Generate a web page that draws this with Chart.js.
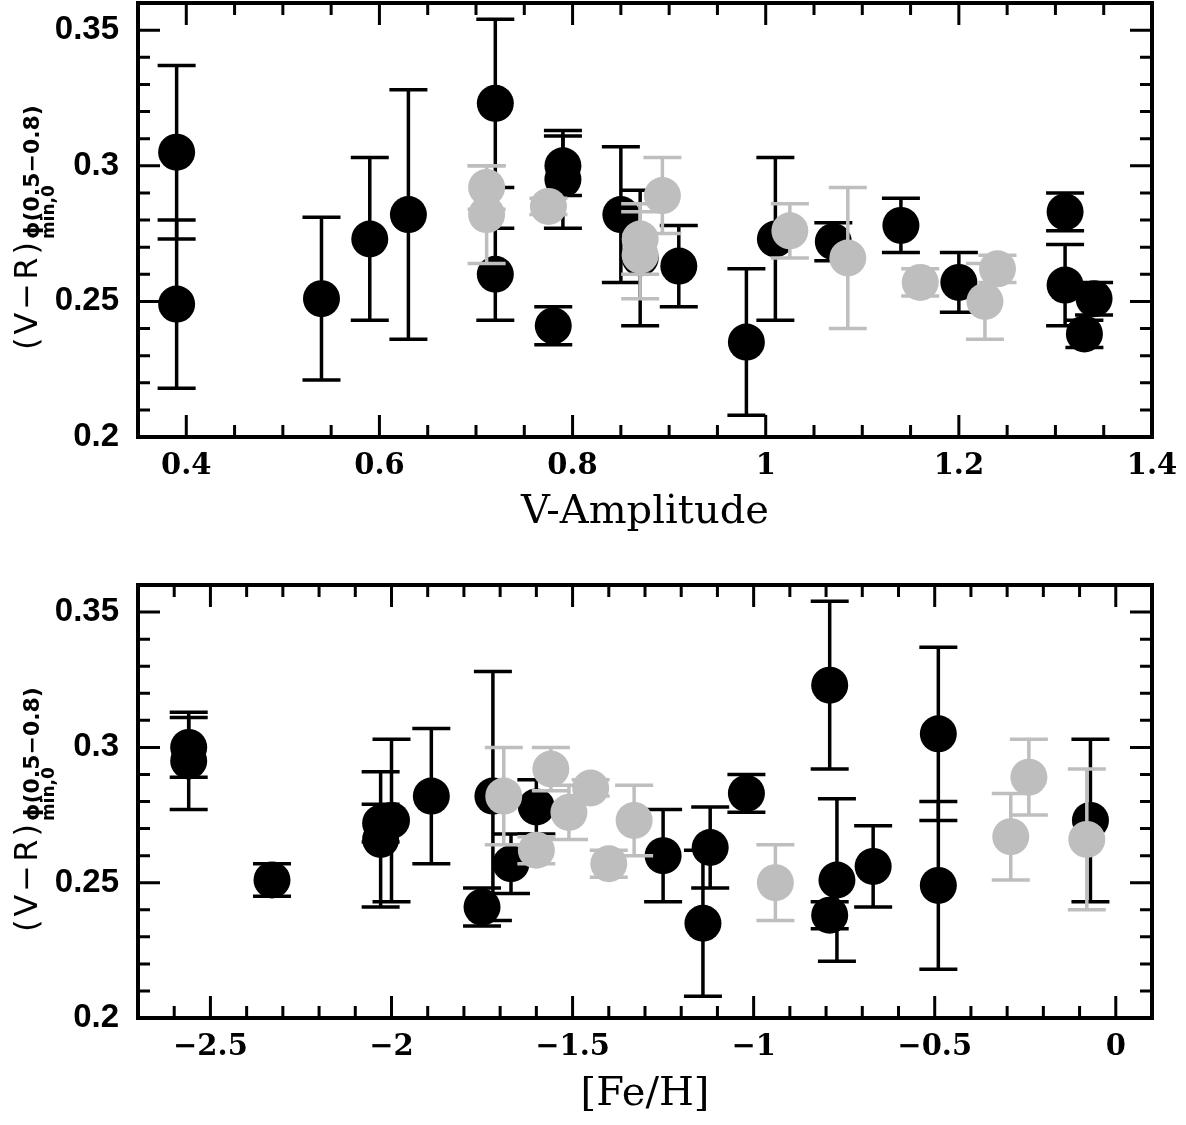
<!DOCTYPE html>
<html><head><meta charset="utf-8">
<script src="https://cdn.jsdelivr.net/npm/chart.js@4.4.1/dist/chart.umd.min.js"></script>
<style>
html,body{margin:0;padding:0;background:#fff;}
#wrap{position:relative;width:1186px;height:1125px;overflow:hidden;}
canvas{position:absolute;left:0;}
#c1{top:-21px;}
#c2{top:560px;}
</style></head><body>
<div id="wrap">
<canvas id="c1" width="1186" height="581"></canvas>
<canvas id="c2" width="1186" height="565"></canvas>
</div>
<script>
// ---------- data ----------
// black stars
const blackAmp = [0.39, 0.39, 0.54, 0.59, 0.63, 0.72, 0.72, 0.78, 0.79, 0.79, 0.85, 0.87, 0.91, 0.98, 1.01, 1.07, 1.14, 1.20, 1.31, 1.31, 1.34, 1.33];
const blackFeH = [-0.49, -0.49, -0.77, -2.00, -1.72, -0.79, -1.25, -1.75, -2.56, -2.56, -1.89, -2.03, -1.12, -1.14, -0.07, -2.03, -1.60, -1.67, -1.02, -0.67, -2.33, -0.79];
const blackVR  = [0.305, 0.249, 0.251, 0.273, 0.282, 0.323, 0.260, 0.241, 0.300, 0.295, 0.282, 0.266, 0.263, 0.235, 0.273, 0.272, 0.278, 0.257, 0.283, 0.256, 0.251, 0.238];
const blackErr = [0.032, 0.031, 0.030, 0.030, 0.046, 0.031, 0.017, 0.007, 0.011, 0.018, 0.025, 0.025, 0.015, 0.027, 0.030, 0.007, 0.010, 0.011, 0.007, 0.015, 0.006, 0.005];
// grey stars
const greyAmp = [0.711, 0.711, 0.775, 0.87, 0.87, 0.893, 1.025, 1.085, 1.16, 1.227, 1.24];
const greyFeH = [-1.56, -1.69, -1.45, -1.33, -0.29, -0.24, -1.51, -0.08, -1.40, -0.94, -1.60];
const greyVR  = [0.292, 0.282, 0.285, 0.273, 0.267, 0.289, 0.276, 0.266, 0.257, 0.250, 0.262];
const greyErr = [0.008, 0.018, 0.003, 0.013, 0.016, 0.014, 0.010, 0.026, 0.005, 0.014, 0.005];

// axes
const yTicks = [0.2, 0.25, 0.3, 0.35];
const yLabels = ['0.2', '0.25', '0.3', '0.35'];
const ampTicks = [0.4, 0.6, 0.8, 1, 1.2, 1.4];
const ampLabels = ['0.4', '0.6', '0.8', '1', '1.2', '1.4'];
const fehTicks = [-2.5, -2, -1.5, -1, -0.5, 0];
const fehLabels = ['\u22122.5', '\u22122', '\u22121.5', '\u22121', '\u22120.5', '0'];

const BLACK = '#000000', GREY = '#bebebe';
const SERIF = '"DejaVu Serif"';

function pts(xs, ys) { return xs.map((x, i) => ({x: x, y: ys[i]})); }

const framePlugin = {
  id: 'frameTicks',
  beforeDatasetDraw(chart, args) {
    const ds = chart.data.datasets[args.index];
    if (!ds.err) return;
    const ctx = chart.ctx, xs = chart.scales.x, ys = chart.scales.y, a = chart.chartArea;
    ctx.save();
    ctx.beginPath(); ctx.rect(a.left, a.top, a.right - a.left, a.bottom - a.top); ctx.clip();
    ctx.strokeStyle = ds.backgroundColor; ctx.lineWidth = 3.5; ctx.lineCap = 'butt';
    ds.data.forEach((p, i) => {
      const e = ds.err[i];
      const px = xs.getPixelForValue(p.x);
      const y1 = ys.getPixelForValue(p.y + e), y2 = ys.getPixelForValue(p.y - e);
      const hw = 19;
      ctx.beginPath();
      ctx.moveTo(px, y1); ctx.lineTo(px, y2);
      ctx.moveTo(px - hw, y1); ctx.lineTo(px + hw, y1);
      ctx.moveTo(px - hw, y2); ctx.lineTo(px + hw, y2);
      ctx.stroke();
    });
    ctx.restore();
  },
  afterDraw(chart) {
    const ctx = chart.ctx, xs = chart.scales.x, ys = chart.scales.y, a = chart.chartArea;
    const o = chart.options.plugins.frameTicks;
    ctx.save();
    ctx.strokeStyle = '#000'; ctx.lineCap = 'butt';
    ctx.lineWidth = 3;
    const MAJ = 22, MIN = 12;
    function xTick(v, len) {
      const px = xs.getPixelForValue(v);
      ctx.beginPath(); ctx.moveTo(px, a.bottom); ctx.lineTo(px, a.bottom - len);
      ctx.moveTo(px, a.top); ctx.lineTo(px, a.top + len); ctx.stroke();
    }
    function yTick(v, len) {
      const py = ys.getPixelForValue(v);
      ctx.beginPath(); ctx.moveTo(a.left, py); ctx.lineTo(a.left + len, py);
      ctx.moveTo(a.right, py); ctx.lineTo(a.right - len, py); ctx.stroke();
    }
    const near = (v, arr) => arr.some(t => Math.abs(t - v) < 1e-6);
    for (let k = Math.ceil(xs.min / o.xMinorStep - 1e-6); k * o.xMinorStep <= xs.max + 1e-9; k++) {
      const v = +(k * o.xMinorStep).toFixed(6);
      if (Math.abs(v - xs.min) < 1e-6 || Math.abs(v - xs.max) < 1e-6) continue;
      xTick(v, near(v, o.xMajor) ? MAJ : MIN);
    }
    for (let k = Math.ceil(ys.min / 0.01 - 1e-6); k * 0.01 <= ys.max + 1e-9; k++) {
      const v = +(k * 0.01).toFixed(6);
      if (Math.abs(v - ys.min) < 1e-6 || Math.abs(v - ys.max) < 1e-6) continue;
      yTick(v, near(v, yTicks) ? MAJ : MIN);
    }
    ctx.lineWidth = 4;
    ctx.strokeRect(a.left, a.top, a.right - a.left, a.bottom - a.top);
    // y axis title: (V-R) with sub/superscript
    ctx.fillStyle = '#000';
    ctx.translate(0, a.top + 347);
    ctx.rotate(-Math.PI / 2);
    ctx.textBaseline = 'alphabetic'; ctx.textAlign = 'left';
    ctx.font = '32px "DejaVu Sans"';
    ctx.letterSpacing = '3px';
    const main = '(V\u2212R)';
    ctx.fillText(main, 0, 37);
    const w = ctx.measureText(main).width;
    ctx.letterSpacing = '0px';
    ctx.font = 'bold 22px "DejaVu Sans"';
    ctx.fillText('\u03D5(0.5\u22120.8)', w, 39);
    ctx.font = 'bold 17px "DejaVu Sans"';
    ctx.fillText('min,0', w, 54);
    ctx.restore();
  }
};

function makeChart(id, bx, gx, xMin, xMax, xT, xL, xMinorStep, xTitle, padTop, axisH, titlePadBottom) {
  return new Chart(document.getElementById(id), {
    type: 'scatter',
    data: {
      datasets: [
        { label: 'black', data: pts(bx, blackVR), err: blackErr, backgroundColor: BLACK, borderColor: BLACK,
          pointRadius: 18.5, pointBorderWidth: 0, pointHoverRadius: 18.5, order: 2 },
        { label: 'grey', data: pts(gx, greyVR), err: greyErr, backgroundColor: GREY, borderColor: GREY,
          pointRadius: 18.5, pointBorderWidth: 0, pointHoverRadius: 18.5, order: 1 }
      ]
    },
    options: {
      responsive: false, animation: false, devicePixelRatio: 1,
      layout: { padding: { left: 0, right: 34, top: padTop, bottom: 0 } },
      plugins: { legend: { display: false }, tooltip: { enabled: false },
        frameTicks: { xMajor: xT, xMinorStep: xMinorStep } },
      scales: {
        x: {
          type: 'linear', min: xMin, max: xMax,
          grid: { display: false, drawTicks: false }, border: { display: false },
          afterBuildTicks: s => { s.ticks = xT.map(v => ({ value: v })); },
          ticks: { callback: (v, i) => xL[i], autoSkip: false, maxRotation: 0, padding: 12, color: '#000',
                   font: { family: SERIF, weight: 'bold', size: 29 } },
          title: { display: true, text: xTitle, color: '#000', padding: { top: 0, bottom: titlePadBottom },
                   font: { family: SERIF, size: 40 } },
          afterFit: s => { s.height = axisH; s.paddingLeft = 0; s.paddingRight = 0; }
        },
        y: {
          type: 'linear', min: 0.2, max: 0.36,
          grid: { display: false, drawTicks: false }, border: { display: false },
          afterBuildTicks: s => { s.ticks = yTicks.map(v => ({ value: v })); },
          ticks: { callback: (v, i) => yLabels[i], autoSkip: false, padding: 19, color: '#000',
                   font: { family: '"Liberation Sans", Arial, sans-serif', weight: 'bold', size: 33 } },
          afterFit: s => { s.width = 138; s.paddingTop = 0; s.paddingBottom = 0; }
        }
      }
    },
    plugins: [framePlugin]
  });
}

makeChart('c1', blackAmp, greyAmp, 0.35, 1.4, ampTicks, ampLabels, 0.05, 'V-Amplitude', 24, 123, 23);
makeChart('c2', blackFeH, greyFeH, -2.7, 0.1, fehTicks, fehLabels, 0.1, '[Fe/H]', 25, 107, 6);
</script>
</body></html>
